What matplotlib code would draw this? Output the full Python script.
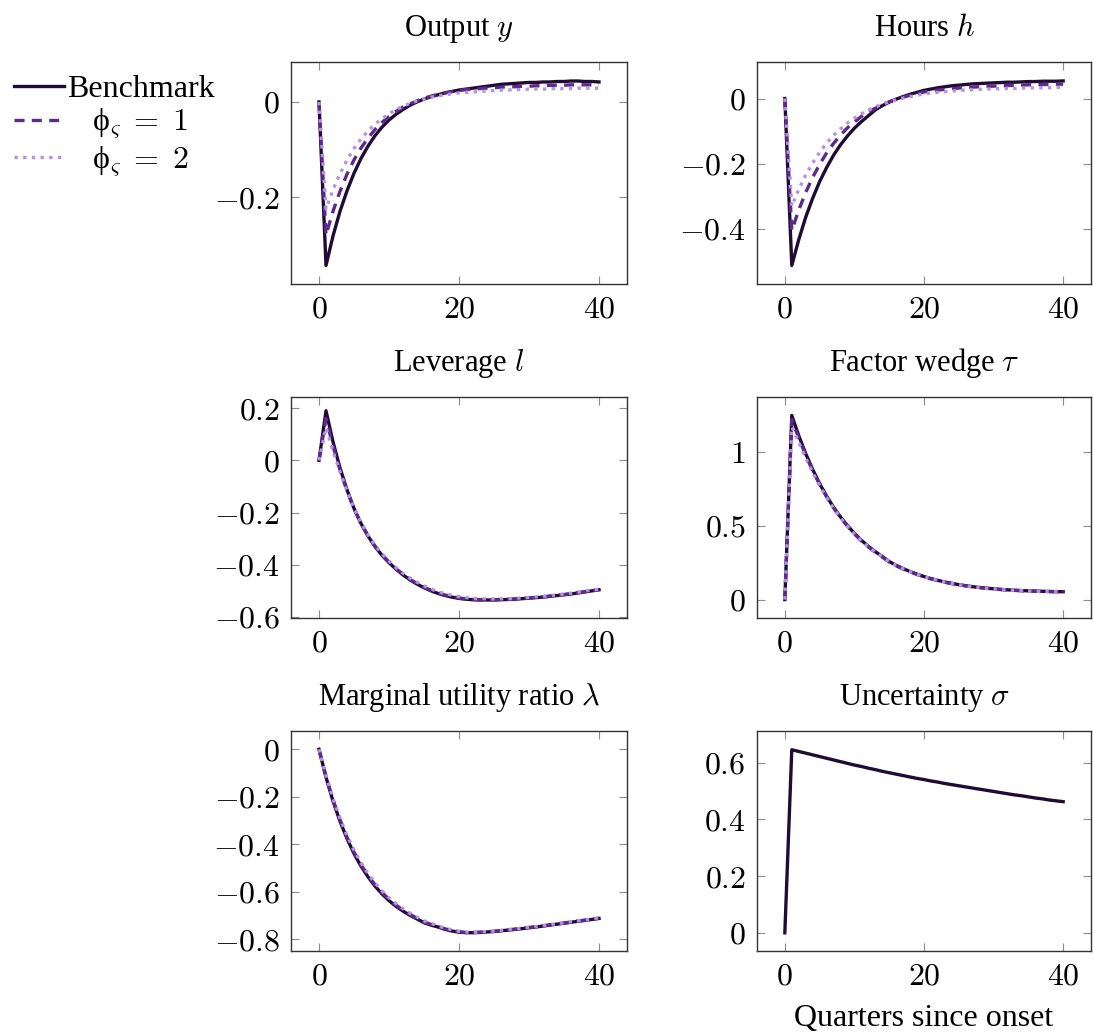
import numpy as np
import matplotlib
matplotlib.use('Agg')
import matplotlib.pyplot as plt
from matplotlib.ticker import FixedLocator, FuncFormatter

plt.rcParams['font.family'] = ['Liberation Serif', 'DejaVu Serif']
plt.rcParams['mathtext.fontset'] = 'cm'
plt.rcParams['font.size'] = 23

quarters = np.arange(41)

# Output y
y_bench = [0, -0.344, -0.282, -0.230, -0.187, -0.150, -0.119, -0.093, -0.071, -0.053, -0.038,
           -0.026, -0.016, -0.007, 0.000, 0.006, 0.011, 0.015, 0.019, 0.022, 0.025,
           0.027, 0.029, 0.031, 0.033, 0.035, 0.037, 0.038, 0.039, 0.040, 0.041,
           0.041, 0.042, 0.042, 0.043, 0.043, 0.044, 0.044, 0.043, 0.043, 0.042]
y_phi1 = [0, -0.280, -0.230, -0.188, -0.152, -0.122, -0.097, -0.076, -0.058, -0.043, -0.031,
          -0.020, -0.011, -0.004, 0.002, 0.008, 0.012, 0.016, 0.019, 0.022, 0.024,
          0.026, 0.027, 0.028, 0.029, 0.030, 0.031, 0.032, 0.032, 0.033, 0.033,
          0.034, 0.034, 0.035, 0.035, 0.035, 0.036, 0.036, 0.036, 0.036, 0.036]
y_phi2 = [0, -0.225, -0.185, -0.151, -0.122, -0.098, -0.078, -0.061, -0.047, -0.035, -0.025,
          -0.016, -0.009, -0.003, 0.002, 0.006, 0.010, 0.013, 0.015, 0.017, 0.019,
          0.020, 0.021, 0.022, 0.023, 0.024, 0.025, 0.025, 0.026, 0.026, 0.027,
          0.027, 0.027, 0.028, 0.028, 0.028, 0.028, 0.029, 0.029, 0.029, 0.029]

# Hours h
h_bench = [0, -0.512, -0.433, -0.364, -0.306, -0.255, -0.212, -0.174, -0.142, -0.115, -0.091,
           -0.071, -0.053, -0.035, -0.022, -0.011, -0.002, 0.006, 0.013, 0.019, 0.025,
           0.029, 0.033, 0.036, 0.039, 0.041, 0.043, 0.045, 0.046, 0.047, 0.048,
           0.049, 0.050, 0.050, 0.051, 0.052, 0.052, 0.053, 0.053, 0.053, 0.054]
h_phi1 = [0, -0.405, -0.342, -0.288, -0.242, -0.202, -0.167, -0.138, -0.112, -0.090, -0.072,
          -0.055, -0.041, -0.030, -0.019, -0.010, -0.003, 0.004, 0.010, 0.015, 0.020,
          0.023, 0.026, 0.028, 0.030, 0.032, 0.034, 0.035, 0.036, 0.037, 0.038,
          0.039, 0.040, 0.040, 0.041, 0.042, 0.042, 0.043, 0.043, 0.044, 0.044]
h_phi2 = [0, -0.330, -0.279, -0.235, -0.198, -0.165, -0.137, -0.113, -0.093, -0.075, -0.060,
          -0.047, -0.035, -0.026, -0.017, -0.010, -0.004, 0.001, 0.006, 0.010, 0.014,
          0.017, 0.019, 0.021, 0.023, 0.025, 0.026, 0.027, 0.028, 0.029, 0.030,
          0.030, 0.031, 0.031, 0.032, 0.032, 0.033, 0.033, 0.033, 0.034, 0.034]

# Leverage l
l_bench = [0, 0.190, 0.071, -0.029, -0.113, -0.184, -0.242, -0.290, -0.330, -0.364, -0.392,
           -0.417, -0.439, -0.458, -0.474, -0.488, -0.500, -0.510, -0.518, -0.524, -0.529,
           -0.532, -0.534, -0.535, -0.535, -0.535, -0.534, -0.533, -0.532, -0.530, -0.528,
           -0.526, -0.524, -0.521, -0.518, -0.515, -0.512, -0.508, -0.504, -0.500, -0.496]
l_phi1 = [0, 0.160, 0.055, -0.037, -0.117, -0.186, -0.242, -0.289, -0.329, -0.362, -0.390,
          -0.415, -0.437, -0.456, -0.472, -0.486, -0.498, -0.508, -0.516, -0.522, -0.527,
          -0.531, -0.533, -0.534, -0.534, -0.534, -0.533, -0.532, -0.531, -0.529, -0.527,
          -0.525, -0.523, -0.520, -0.517, -0.514, -0.511, -0.507, -0.503, -0.499, -0.495]
l_phi2 = [0, 0.125, 0.035, -0.045, -0.118, -0.182, -0.238, -0.285, -0.325, -0.358, -0.386,
          -0.411, -0.433, -0.451, -0.467, -0.481, -0.493, -0.503, -0.511, -0.517, -0.522,
          -0.526, -0.529, -0.530, -0.531, -0.531, -0.531, -0.530, -0.529, -0.527, -0.525,
          -0.523, -0.521, -0.518, -0.515, -0.512, -0.509, -0.505, -0.501, -0.497, -0.494]

# Factor wedge tau
tau_bench = [0, 1.248, 1.111, 0.989, 0.882, 0.786, 0.701, 0.626, 0.560, 0.501, 0.449,
             0.402, 0.361, 0.325, 0.292, 0.258, 0.232, 0.210, 0.190, 0.172, 0.156,
             0.142, 0.130, 0.119, 0.110, 0.101, 0.094, 0.087, 0.082, 0.077, 0.073,
             0.069, 0.066, 0.063, 0.061, 0.059, 0.057, 0.056, 0.055, 0.054, 0.053]
tau_phi1 = [0, 1.220, 1.095, 0.978, 0.875, 0.781, 0.697, 0.622, 0.556, 0.497, 0.445,
            0.398, 0.357, 0.321, 0.288, 0.255, 0.229, 0.207, 0.188, 0.170, 0.154,
            0.140, 0.128, 0.117, 0.108, 0.100, 0.093, 0.086, 0.081, 0.076, 0.072,
            0.068, 0.065, 0.062, 0.060, 0.058, 0.056, 0.055, 0.054, 0.053, 0.052]
tau_phi2 = [0, 1.170, 1.065, 0.960, 0.862, 0.772, 0.692, 0.619, 0.554, 0.496, 0.445,
            0.399, 0.358, 0.322, 0.290, 0.257, 0.231, 0.209, 0.190, 0.172, 0.156,
            0.142, 0.130, 0.119, 0.109, 0.101, 0.093, 0.087, 0.081, 0.076, 0.072,
            0.068, 0.065, 0.062, 0.060, 0.058, 0.056, 0.055, 0.054, 0.053, 0.052]

# Marginal utility ratio lambda
lam_bench = [0, -0.118, -0.218, -0.303, -0.376, -0.439, -0.492, -0.537, -0.576, -0.609, -0.637,
             -0.661, -0.681, -0.699, -0.714, -0.730, -0.740, -0.748, -0.758, -0.765, -0.770,
             -0.772, -0.772, -0.771, -0.769, -0.767, -0.764, -0.761, -0.758, -0.755, -0.751,
             -0.748, -0.744, -0.740, -0.736, -0.732, -0.728, -0.724, -0.720, -0.716, -0.712]
lam_phi1 = [0, -0.115, -0.213, -0.297, -0.370, -0.433, -0.486, -0.531, -0.570, -0.603, -0.631,
            -0.656, -0.677, -0.695, -0.711, -0.727, -0.737, -0.746, -0.756, -0.763, -0.768,
            -0.771, -0.771, -0.770, -0.768, -0.766, -0.763, -0.760, -0.757, -0.754, -0.750,
            -0.747, -0.743, -0.739, -0.735, -0.731, -0.727, -0.723, -0.719, -0.715, -0.711]
lam_phi2 = [0, -0.110, -0.207, -0.290, -0.362, -0.424, -0.477, -0.523, -0.562, -0.596, -0.625,
            -0.650, -0.671, -0.690, -0.706, -0.722, -0.733, -0.743, -0.753, -0.760, -0.766,
            -0.769, -0.770, -0.769, -0.767, -0.765, -0.762, -0.759, -0.756, -0.753, -0.749,
            -0.746, -0.742, -0.738, -0.734, -0.730, -0.726, -0.722, -0.718, -0.714, -0.709]

# Uncertainty sigma
sig_bench = [0, 0.645, 0.639, 0.633, 0.627, 0.621, 0.615, 0.609, 0.603, 0.597, 0.591,
             0.586, 0.580, 0.575, 0.569, 0.564, 0.559, 0.554, 0.549, 0.544, 0.540,
             0.535, 0.531, 0.526, 0.522, 0.518, 0.514, 0.510, 0.506, 0.502, 0.498,
             0.494, 0.490, 0.486, 0.483, 0.479, 0.475, 0.472, 0.468, 0.465, 0.462]

titles = ['Output $y$', 'Hours $h$', 'Leverage $l$', r'Factor wedge $\tau$',
          r'Marginal utility ratio $\lambda$', r'Uncertainty $\sigma$']
panels = [(y_bench, y_phi1, y_phi2), (h_bench, h_phi1, h_phi2),
          (l_bench, l_phi1, l_phi2), (tau_bench, tau_phi1, tau_phi2),
          (lam_bench, lam_phi1, lam_phi2), (sig_bench, None, None)]
yticks = [[-0.2, 0], [-0.4, -0.2, 0], [-0.6, -0.4, -0.2, 0, 0.2], [0, 0.5, 1],
          [-0.8, -0.6, -0.4, -0.2, 0], [0, 0.2, 0.4, 0.6]]
ylims = [(-0.383, 0.084), (-0.569, 0.112), (-0.604, 0.2425), (-0.125, 1.373),
         (-0.849, 0.077), (-0.064, 0.711)]
labels = ['Benchmark', '   ϕ$_\\varsigma\\;=\\;1$', '   ϕ$_\\varsigma\\;=\\;2$']

c_bench = '#1f0b33'
c_phi1 = '#5c2b87'
c_phi2 = '#b592e6'

fig = plt.figure(figsize=(10.94, 10.32), dpi=100)
W, H = 1094, 1032
cols = [(291, 336), (757, 334)]
rows = [(62, 222), (397, 221), (731, 220)]


def fmt(v, pos):
    return '$%g$' % v


handles = []
for i, (title, data) in enumerate(zip(titles, panels)):
    r, c = divmod(i, 2)
    x0, w = cols[c]
    y0, h = rows[r]
    ax = fig.add_axes([x0 / W, 1 - (y0 + h) / H, w / W, h / H])
    bench, p1, p2 = data
    lb, = ax.plot(quarters, bench, color=c_bench, lw=2.4, label=labels[0], zorder=3)
    if p1 is not None:
        l1, = ax.plot(quarters, p1, color=c_phi1, lw=2.4, ls=(0, (3, 2.2)), label=labels[1], zorder=4)
        l2, = ax.plot(quarters, p2, color=c_phi2, lw=2.4, ls=(0, (1, 1.6)), label=labels[2], zorder=5)
        if i == 0:
            handles = [lb, l1, l2]
    ax.set_xlim(-4, 44)
    ax.set_ylim(*ylims[i])
    ax.xaxis.set_major_locator(FixedLocator([0, 20, 40]))
    ax.yaxis.set_major_locator(FixedLocator(yticks[i]))
    ax.xaxis.set_major_formatter(FuncFormatter(fmt))
    ax.yaxis.set_major_formatter(FuncFormatter(fmt))
    ax.tick_params(direction='in', length=6, width=0.8, color='#8c8c8c',
                   top=True, right=True, labelsize=23, pad=8)
    for sp in ax.spines.values():
        sp.set_linewidth(1.0)
        sp.set_color('#333333')
    ax.set_title(title, fontsize=22, pad=19)
    if i == 5:
        ax.set_xlabel('Quarters since onset', fontsize=23, labelpad=9)

fig.legend(handles, labels, loc='upper left', bbox_to_anchor=(-0.0075, 1 - 52 / H),
           frameon=False, fontsize=23, handlelength=1.55, handletextpad=0.12,
           labelspacing=0.1, borderaxespad=0.3)

fig.savefig('out.png', dpi=100)
